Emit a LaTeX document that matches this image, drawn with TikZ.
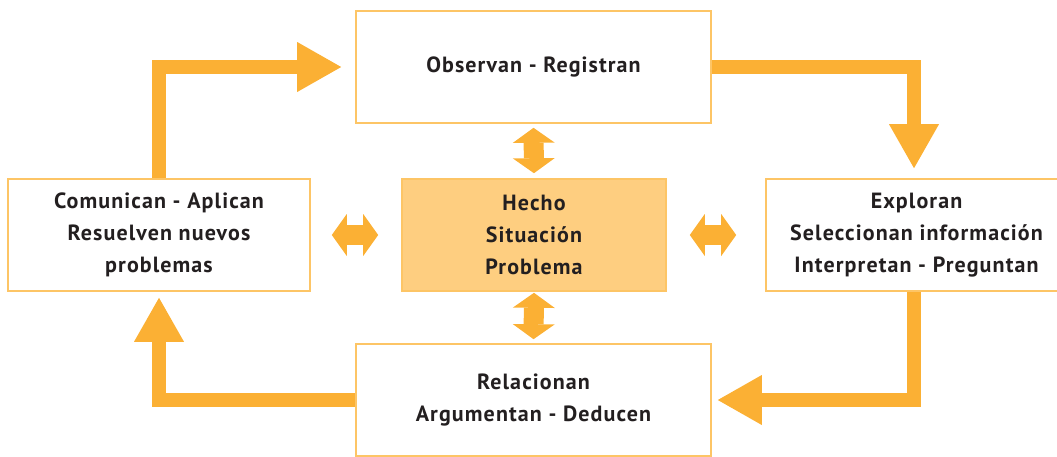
\documentclass[tikz,border=0pt]{standalone}
\usepackage{fontspec}
\setmainfont{PT Sans}[LetterSpace=5]
\usetikzlibrary{arrows.meta}
\definecolor{naranja}{RGB}{251,176,52}
\definecolor{borde}{RGB}{253,197,102}
\definecolor{relleno}{RGB}{254,206,128}
\definecolor{texto}{RGB}{35,31,32}

\begin{document}
\begin{tikzpicture}[x=1pt,y=-1pt,
    caja/.style={draw=borde,line width=1.6pt,fill=white,minimum width=#1,
      minimum height=112pt,inner sep=0pt,align=center,text=texto,
      font=\bfseries\fontsize{22}{32}\selectfont},
    flujo/.style={draw=naranja,line width=14pt,
      -{Triangle[length=44pt,width=50pt,line width=0pt]}},
    doble/.style={draw=naranja,line width=20pt,
      {Triangle[length=15pt,width=42pt,line width=0pt]}-{Triangle[length=15pt,width=42pt,line width=0pt]}}]
    \clip (0,0) rectangle (1057,456);
    % cajas
    \node[caja=355pt] (obs) at (533.5,67) {Observan - Registran};
    \node[caja=302pt] (com) at (159,235) {Comunican - Aplican\\Resuelven nuevos\\problemas};
    \node[caja=264pt,fill=relleno] (hecho) at (534,235) {Hecho\\Situación\\Problema};
    \node[caja=301pt] (expl) at (916.5,235) {Exploran\\Seleccionan información\\Interpretan - Preguntan};
    \node[caja=355pt] (rel) at (533.5,400) {Relacionan\\Argumentan - Deducen};
    % ciclo
    \draw[flujo,shorten >=14pt] (com.north) |- (obs.west);
    \draw[flujo,shorten >=10pt] (obs.east) -| ([xshift=-2.5pt]expl.north);
    \draw[flujo,shorten >=6pt] ([xshift=-2.5pt]expl.south) |- (rel.east);
    \draw[flujo,shorten >=6pt] (rel.west) -| (com.south);
    % flechas dobles
    \draw[doble,shorten <=4pt,shorten >=5pt] (obs.south) -- (hecho.north);
    \draw[doble,shorten <=1pt,shorten >=4pt] (hecho.south) -- (rel.north);
    \draw[doble,shorten <=21pt,shorten >=23pt] (com.east) -- (hecho.west);
    \draw[doble,shorten <=23pt,shorten >=29pt] (hecho.east) -- (expl.west);
\end{tikzpicture}
\end{document}
